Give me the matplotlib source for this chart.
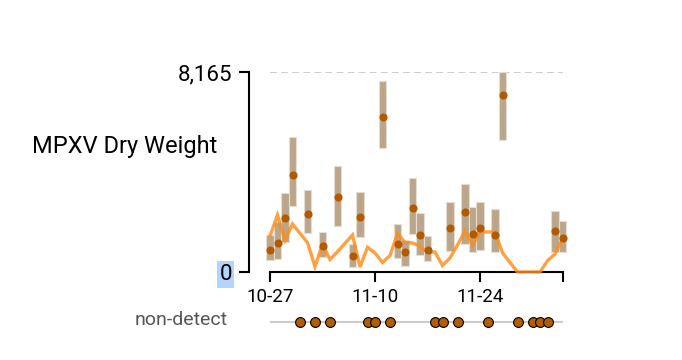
import numpy as np
import pandas as pd
import matplotlib
matplotlib.use('Agg')
import matplotlib.pyplot as plt
import matplotlib.dates as mdates

plt.rcParams['font.family'] = ['Roboto', 'DejaVu Sans']

# daily trend line (10-27 .. 12-05)
line_start = '2022-10-27'
line_vals = [1470, 2327, 1306, 1960, 1580, 1196, 225, 1131, 510, 829,
             1172, 1511, 204, 1008, 776, 388, 674, 1572, 1204, 1184,
             1049, 804, 817, 265, 572, 1102, 1674, 1102, 1633, 1633,
             1633, 784, 388, 0, 0, 0, 0, 461, 735, 1347]

# detected samples: estimate with low / high interval
det_dates = ['2022-10-27', '2022-10-28', '2022-10-29', '2022-10-30', '2022-11-01',
             '2022-11-03', '2022-11-05', '2022-11-07', '2022-11-08', '2022-11-11',
             '2022-11-13', '2022-11-14', '2022-11-15', '2022-11-16', '2022-11-17',
             '2022-11-20', '2022-11-22', '2022-11-23', '2022-11-24', '2022-11-26',
             '2022-11-27', '2022-12-04', '2022-12-05']
det_vals = [898, 1196, 2192, 3948, 2368, 1061, 3050, 665, 2233, 6340, 1155, 804,
            2613, 1511, 898, 1796, 2462, 1564, 1784, 1511, 7214, 1674, 1400]
det_lo = [490, 518, 1237, 2707, 1580, 600, 1878, 192, 1441, 5050, 584, 257,
          1551, 694, 449, 857, 1150, 804, 898, 804, 5389, 804, 804]
det_hi = [1511, 2054, 3213, 5499, 3348, 1645, 4340, 1131, 3254, 7785, 1960, 1306,
          3825, 2396, 1482, 2846, 3593, 2654, 2846, 2584, 8165, 2503, 2094]

# non-detect samples
nd_dates = ['2022-10-31', '2022-11-02', '2022-11-04', '2022-11-09', '2022-11-10',
            '2022-11-12', '2022-11-18', '2022-11-19', '2022-11-21', '2022-11-25',
            '2022-11-29', '2022-12-01', '2022-12-02', '2022-12-03']

y_max = 8165
x_ticks = ['2022-10-27', '2022-11-10', '2022-11-24', '2022-12-05']

line_x = pd.date_range(line_start, periods=len(line_vals), freq='D')
det_x = pd.to_datetime(det_dates)
nd_x = pd.to_datetime(nd_dates)
lo = np.array(det_lo)
hi = np.array(det_hi)

W, H = 682, 360
fig = plt.figure(figsize=(W / 100, H / 100), dpi=100)
ax = fig.add_axes([270 / W, (H - 272) / H, 292.5 / W, 200 / H])

bars = ax.bar(det_x, hi - lo, bottom=lo, width=0.97, color='#bba68b',
              edgecolor='#e6ddd2', linewidth=0.8, zorder=2)
for b in bars:
    b.set_clip_on(False)
ax.plot(line_x, line_vals, color='#ff8c1a', lw=2.4, alpha=0.82, zorder=3,
        solid_joinstyle='miter', clip_on=False)
ax.scatter(det_x, det_vals, s=34, color='#b35900', linewidths=0, zorder=4,
           clip_on=False)
ax.axhline(y_max, color='#cccccc', lw=1.4, dashes=(3.5, 2.2), zorder=1)

ax.set_xlim(line_x[0], line_x[-1])
ax.set_ylim(0, y_max)
for s in ['top', 'right']:
    ax.spines[s].set_visible(False)
ax.spines['left'].set_position(('outward', 15))
ax.spines['left'].set_linewidth(1.5)
ax.spines['bottom'].set_linewidth(1.5)
ax.set_yticks([0, y_max])
ax.set_yticklabels(['0', '8,165'], fontsize=16)
ax.get_yticklabels()[0].set_bbox(dict(facecolor='#b3d4fc', edgecolor='none',
                                      boxstyle='square,pad=0.12'))
ax.set_xticks(pd.to_datetime(x_ticks))
ax.xaxis.set_major_formatter(mdates.DateFormatter('%m-%d'))
ax.set_xticklabels(['10-27', '11-10', '11-24', ''], fontsize=13.5)
ax.tick_params(axis='y', length=7.5, width=1.5, pad=5)
ax.tick_params(axis='x', length=7.5, width=1.5, pad=4)
ax.set_ylabel('MPXV Dry Weight', rotation=0, fontsize=17, ha='right', va='center')
ax.yaxis.set_label_coords(-0.181, 0.63)

# non-detect strip
ax2 = fig.add_axes([270 / W, (H - 332) / H, 292.5 / W, 20 / H], sharex=ax)
ax2.axhline(0, color='#cccccc', lw=1.5, zorder=1)
ax2.scatter(nd_x, np.zeros(len(nd_x)), s=50, color='#b35c00',
            edgecolors='black', linewidths=0.8, zorder=2, clip_on=False)
ax2.set_ylim(-1, 1)
for s in ax2.spines.values():
    s.set_visible(False)
ax2.tick_params(left=False, bottom=False, labelleft=False, labelbottom=False)
ax2.set_ylabel('non-detect', rotation=0, fontsize=14, color='#555555',
               ha='right', va='center')
ax2.yaxis.set_label_coords(-0.144, 0.6)

fig.savefig('out.png', dpi=100)
